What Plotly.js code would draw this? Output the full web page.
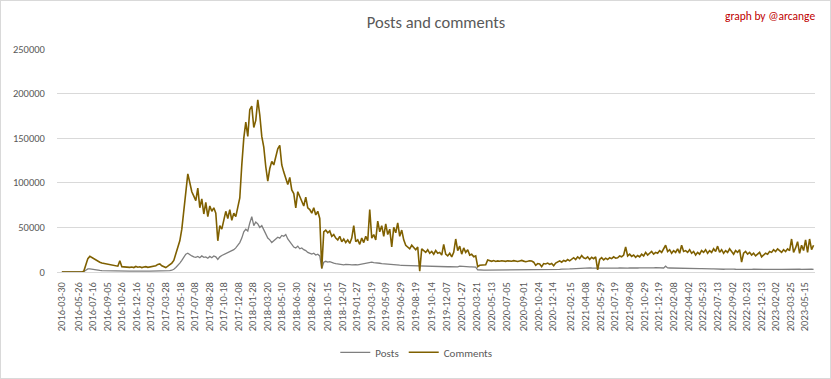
<!DOCTYPE html>
<html>
<head>
<meta charset="utf-8">
<script src="https://cdn.plot.ly/plotly-3.0.1.min.js"></script>
<style>
  html, body { margin: 0; padding: 0; background: #fff; }
  #wrap { position: relative; width: 831px; height: 379px; }
  #chart { width: 831px; height: 379px; }
  #frame { position: absolute; left: 0; top: 0; width: 831px; height: 379px; box-sizing: border-box; border: 1px solid #d9d9d9; pointer-events: none; }
</style>
</head>
<body>
<div id="wrap"><div id="chart"></div><div id="frame"></div></div>
<script>
// Weekly samples starting on this date
const startDate = '2016-03-30';
const stepDays = 7;

const tickLabels = ['2016-03-30','2016-05-26','2016-07-16','2016-09-05','2016-10-26','2016-12-16','2017-02-05','2017-03-28','2017-05-18','2017-07-08','2017-08-28','2017-10-18','2017-12-08','2018-01-28','2018-03-20','2018-05-10','2018-06-30','2018-08-22','2018-10-15','2018-12-07','2019-01-27','2019-03-19','2019-05-09','2019-06-29','2019-08-19','2019-10-14','2019-12-07','2020-01-27','2020-03-21','2020-05-13','2020-07-05','2020-09-01','2020-10-24','2020-12-14','2021-02-15','2021-04-08','2021-05-29','2021-07-19','2021-09-08','2021-10-29','2021-12-19','2022-02-08','2022-04-02','2022-05-23','2022-07-13','2022-09-02','2022-10-23','2022-12-13','2023-02-02','2023-03-25','2023-05-15'];

const posts = [
0,0,0,0,0,0,0,0,0,0,
0,500,2000,3500,3500,3000,2500,2200,2000,1800,
1600,1500,1400,1300,1200,1200,1100,1100,1000,1200,
1000,1000,1100,1000,1000,1000,1100,1000,1000,1000,
1000,1000,1100,1000,1000,1000,1000,1000,1100,1200,
1100,1000,1000,1200,1500,2000,3000,5000,7000,10000,
13000,17000,20000,21000,19000,18000,17000,16500,17500,16000,
18000,16500,17000,15500,17500,16000,18000,17000,14000,17000,
18500,19500,21000,22000,23000,24000,25000,27000,30000,33000,
38000,45000,48000,46000,55000,62000,52000,56000,54000,50000,
52000,47000,42000,38000,36000,33000,35000,37000,39000,38000,
41000,40000,42000,37000,34000,31000,28000,27000,29000,26000,
27000,25000,24000,22000,21000,20000,21000,19000,20000,18000,
4000,11000,12000,11000,11500,10500,10000,9500,9000,9000,
8500,8000,8500,8000,8200,8000,8500,8200,8000,8500,
9000,9500,10000,10500,11000,11000,10500,10000,10000,9800,
9500,9200,9000,8800,8500,8300,8000,8000,7800,7600,
7500,7400,7300,7200,7000,7000,6900,6800,6800,6700,
6500,6500,6400,6300,6300,6200,6200,6100,6100,6000,
6000,6000,6000,5900,5900,5800,5800,5800,5700,6500,
6200,6000,5900,5800,5800,5700,5600,5500,2500,2200,
2200,2200,2200,2200,2800,2900,2800,3000,2900,2800,
2900,3000,2800,2900,3000,2900,2800,2700,2800,2600,
2700,2600,2500,2600,2500,2400,2500,2500,2600,2500,
2400,2500,2600,2500,2700,2600,2800,2700,2900,3000,
3200,3100,3300,3500,3400,3600,3800,3700,4000,4200,
4400,4300,4500,4400,4600,4500,4400,4600,4500,4300,
4400,4300,4500,4200,4300,4400,4200,4300,4400,4500,
4300,4400,4200,4400,4500,4300,4400,4600,4500,4700,
4600,4700,4800,4600,4700,4500,4600,4800,4700,4600,
4700,4500,6500,4600,4500,4400,4600,4500,4300,4400,
4200,4300,4100,4000,4200,3900,4000,3800,3900,3700,
3800,3600,3700,3500,3600,3400,3500,3300,3400,3200,
3300,3100,3200,3000,3100,3000,3200,3100,3000,3200,
3100,3000,3100,3000,2900,3000,3100,2900,3000,2900,
3000,2900,3000,3100,2900,3000,2900,3000,3100,3000,
2900,3000,3100,3000,2900,3000,3100,3000,3200,3100,
3000,3200,3100,3000,3100,3200,3000
];

const comments = [
0,0,0,0,0,0,0,0,0,0,
0,1000,9000,15000,17500,16000,14500,13000,12000,11000,
10000,9500,9000,8500,8000,7500,7000,6800,6500,12500,
6000,5800,5500,6000,5200,5600,5000,6200,5400,5800,
5000,5600,6000,5200,5500,5800,6000,7000,8500,9000,
7000,5500,5000,6500,8000,10000,13000,20000,27000,35000,
48000,68000,92000,110000,100000,90000,85000,80000,94000,72000,
82000,65000,78000,62000,74000,68000,72000,66000,35000,52000,
48000,58000,68000,60000,70000,58000,66000,62000,72000,83000,
120000,150000,168000,152000,182000,186000,162000,170000,193000,176000,
152000,140000,118000,102000,116000,124000,120000,130000,138000,142000,
120000,112000,104000,98000,106000,92000,88000,72000,90000,84000,
80000,74000,84000,72000,70000,66000,72000,64000,68000,60000,
4000,45000,47000,44000,46000,40000,42000,38000,36000,40000,
34000,37000,33000,36000,32000,38000,52000,34000,36000,31000,
38000,33000,40000,35000,70000,38000,42000,36000,57000,45000,
52000,40000,54000,42000,48000,28000,50000,44000,55000,40000,
47000,36000,30000,28000,26000,30000,27000,25000,28000,1000,
26000,24000,22000,25000,21000,23000,20000,24000,21000,22000,
19000,31000,20000,18000,21000,17000,22000,37000,24000,29000,
20000,27000,22000,25000,19000,20000,17000,18000,6000,7500,
7700,7600,8000,13500,12500,12000,12800,11800,12400,12000,
12600,12200,11900,12500,12300,12000,12700,12100,11800,12400,
13000,12200,11500,12000,12600,12300,11000,7500,9500,9000,
6000,9500,9000,10000,8500,9500,7000,10000,11000,12500,
11000,13000,12000,14000,12500,14500,16000,14000,17000,15000,
18500,16000,15000,17000,14000,16500,15000,17000,2500,14000,
16000,13500,15500,14000,16000,15000,17000,15500,16000,18000,
17000,19000,28000,18000,20000,17500,19000,16500,18500,17000,
20000,18000,22000,19000,21000,23000,20000,22000,21000,24000,
22000,26000,30000,23000,25000,21000,24000,22000,26000,21000,
30000,23000,24000,22000,25000,21000,23000,19000,22000,20000,
24000,22000,25000,21000,24000,22000,26000,23000,29000,22000,
25000,21000,24000,22000,26000,23000,20000,24000,22000,25000,
11000,21000,23000,20000,22000,19000,21000,18000,20000,22000,
17000,19000,21000,20000,23000,22000,25000,23000,26000,24000,
22000,25000,23000,26000,24000,37000,22000,27000,34000,21000,
30000,24000,36000,22000,37000,25000,30000
];

function weeklyDates(start, n, step) {
  const d0 = new Date(start + 'T00:00:00Z');
  const out = [];
  for (let i = 0; i < n; i++) {
    const d = new Date(d0.getTime() + i * step * 86400000);
    out.push(d.toISOString().slice(0, 10));
  }
  return out;
}
const dates = weeklyDates(startDate, Math.max(posts.length, comments.length), stepDays);

const FONT = 'Carlito, Calibri, "Liberation Sans", Arial, sans-serif';
const GREY_TXT = '#595959';

const traces = [
  { x: dates.slice(0, posts.length), y: posts, type: 'scatter', mode: 'lines', name: 'Posts',
    line: { color: '#7f7f7f', width: 1.3 } },
  { x: dates.slice(0, comments.length), y: comments, type: 'scatter', mode: 'lines', name: 'Comments',
    line: { color: '#7f6000', width: 1.6 } }
];

const layout = {
  width: 831, height: 379,
  margin: { l: 57, r: 16, t: 49, b: 104 },
  paper_bgcolor: '#ffffff', plot_bgcolor: '#ffffff',
  font: { family: FONT, color: GREY_TXT, size: 10.5 },
  title: { text: 'Posts and comments', font: { family: FONT, size: 16.5, color: GREY_TXT },
           x: 0.5, xref: 'paper', xanchor: 'center', y: 0.942, yref: 'container', yanchor: 'middle' },
  showlegend: true,
  legend: { orientation: 'h', x: 0.474, xanchor: 'center', y: -0.36, yanchor: 'middle',
            font: { family: FONT, size: 11, color: GREY_TXT }, bgcolor: 'rgba(0,0,0,0)', itemwidth: 30 },
  xaxis: {
    type: 'date',
    range: ['2016-03-13', '2023-06-19'],
    tickmode: 'array', tickvals: tickLabels, ticktext: tickLabels,
    tickangle: -90, tickfont: { family: FONT, size: 10.5, color: GREY_TXT },
    ticks: 'outside', ticklen: 5, tickcolor: 'rgba(0,0,0,0)',
    showgrid: false, showline: true, linecolor: '#d9d9d9', linewidth: 1, zeroline: false
  },
  yaxis: {
    range: [0, 250000], tickmode: 'array', tickvals: [0, 50000, 100000, 150000, 200000, 250000],
    ticktext: ['0', '50000', '100000', '150000', '200000', '250000'],
    tickfont: { family: FONT, size: 10.5, color: GREY_TXT },
    ticks: 'outside', ticklen: 9, tickcolor: 'rgba(0,0,0,0)',
    showgrid: true, gridcolor: '#d9d9d9', gridwidth: 1, zeroline: false, showline: false
  },
  annotations: [
    { text: 'graph by @arcange', xref: 'paper', yref: 'paper', x: 1.003, y: 1.149,
      xanchor: 'right', yanchor: 'middle', showarrow: false,
      font: { family: FONT, size: 11.5, color: '#c00000' } }
  ]
};

Plotly.newPlot('chart', traces, layout, { displayModeBar: false, staticPlot: true });
</script>
</body>
</html>
